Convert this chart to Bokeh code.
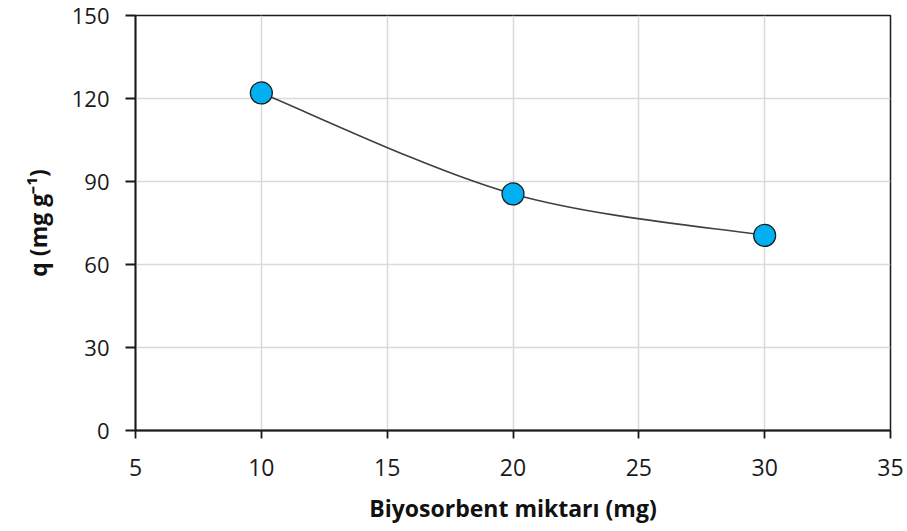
import numpy as np
from bokeh.plotting import figure
from bokeh.models import Range1d, FixedTicker
from bokeh.embed import file_html
from bokeh.resources import INLINE

# Data
dose_mg = [10, 20, 30]
q_values = [122.0, 85.5, 70.5]
x_ticks = [5, 10, 15, 20, 25, 30, 35]
y_ticks = [0, 30, 60, 90, 120, 150]
x_title = "Biyosorbent miktarı (mg)"
y_title = "q (mg g\u207b\u00b9)"

FONT = "Open Sans"

p = figure(width=907, height=531, output_backend="svg", toolbar_location=None,
           x_range=Range1d(5, 35), y_range=Range1d(0, 150),
           min_border_left=135, min_border_right=17, min_border_top=15, min_border_bottom=101)
p.background_fill_color = "white"
p.border_fill_color = "white"
p.outline_line_color = "#1a1a1a"
p.outline_line_width = 1.5

# Smoothed line (Catmull-Rom style bezier segments from data)
xs = np.array(dose_mg, dtype=float)
ys = np.array(q_values, dtype=float)
xp = np.concatenate([[xs[0]], xs, [xs[-1]]])
yp = np.concatenate([[ys[0]], ys, [ys[-1]]])
n = len(xs)
x0 = xs[:-1]; y0 = ys[:-1]; x1 = xs[1:]; y1 = ys[1:]
cx0 = x0 + (xp[2:n+1] - xp[0:n-1]) / 6.0
cy0 = y0 + (yp[2:n+1] - yp[0:n-1]) / 6.0
cx1 = x1 - (xp[3:n+2] - xp[1:n]) / 6.0
cy1 = y1 - (yp[3:n+2] - yp[1:n]) / 6.0
p.bezier(x0=x0, y0=y0, x1=x1, y1=y1, cx0=cx0, cy0=cy0, cx1=cx1, cy1=cy1,
         line_color="#404040", line_width=1.6)

p.scatter(dose_mg, q_values, size=22, fill_color="#00B0F0", line_color="#1a1a1a", line_width=1.2)

for ax, ticks in ((p.xaxis, x_ticks), (p.yaxis, y_ticks)):
    ax.ticker = FixedTicker(ticks=ticks)
    ax.axis_line_color = "#1a1a1a"
    ax.axis_line_width = 1.8
    ax.major_tick_line_color = "#1a1a1a"
    ax.major_tick_line_width = 1.8
    ax.major_tick_in = 0
    ax.minor_tick_line_color = None
    ax.major_label_text_font = FONT
    ax.major_label_text_color = "#1a1a1a"
    ax.axis_label_text_font = FONT
    ax.axis_label_text_font_size = "23px"
    ax.axis_label_text_font_style = "bold"
    ax.axis_label_text_color = "#111111"

p.xaxis.major_label_text_font_size = "23px"
p.yaxis.major_label_text_font_size = "22px"
p.xaxis.major_tick_out = 8
p.xaxis.major_label_standoff = 20
p.xaxis.axis_label = x_title
p.xaxis.axis_label_standoff = 13
p.yaxis.major_tick_out = 10
p.yaxis.major_label_standoff = 16
p.yaxis.axis_label = y_title
p.yaxis.axis_label_standoff = 15

p.xgrid.ticker = FixedTicker(ticks=x_ticks)
p.ygrid.ticker = FixedTicker(ticks=y_ticks)
p.grid.grid_line_color = "#d9d9d9"
p.grid.grid_line_width = 1.5

open("out.html", "w").write(file_html(p, INLINE))
